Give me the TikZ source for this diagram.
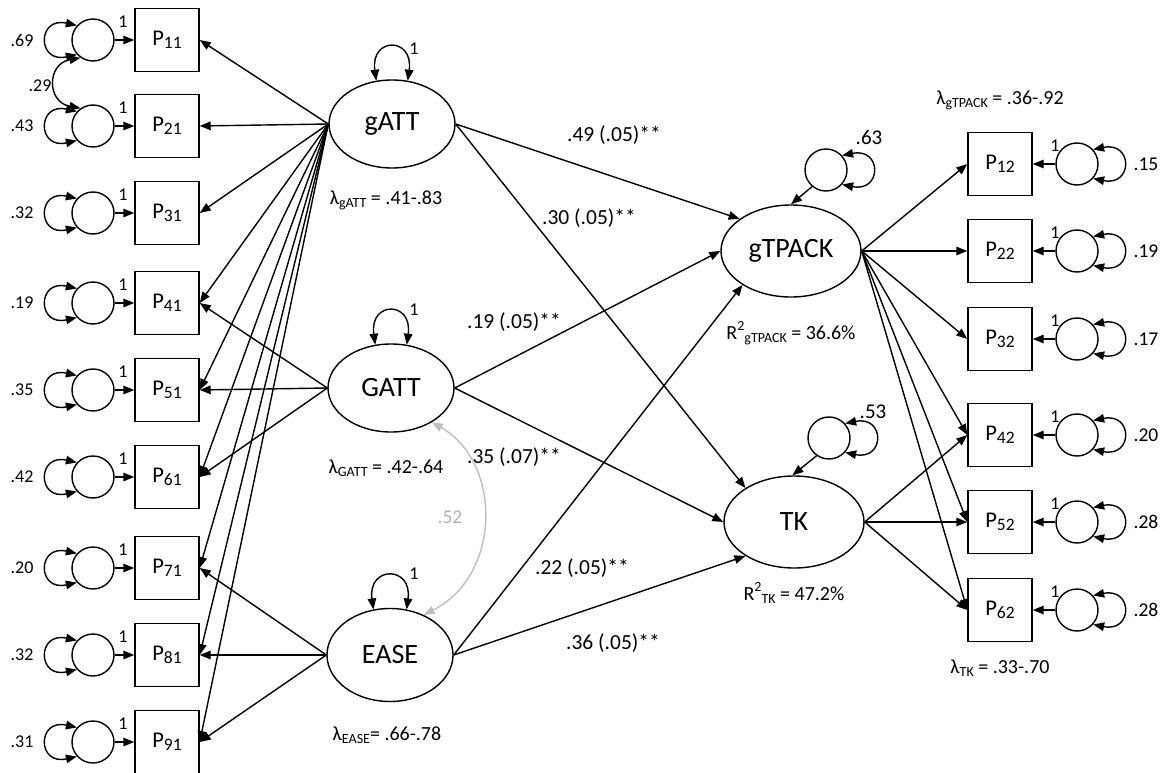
\documentclass[tikz,border=0pt]{standalone}
\usepackage{fontspec}
\setmainfont{Carlito}
\usetikzlibrary{shapes.geometric,arrows.meta}

% index placed low after a letter, and a raised exponent
\newcommand{\lowidx}[2][17.5]{\raisebox{-3pt}{\fontsize{#1}{#1}\selectfont #2}}
\newcommand{\highidx}[1]{\raisebox{0.45em}{\fontsize{14}{14}\selectfont #1}}

\tikzset{
  tip/.tip={Triangle[length=11pt,width=8.5pt]},
  obs/.style={draw, line width=1.4pt, minimum width=64pt, minimum height=63pt, inner sep=0pt,
              font=\fontsize{22.5}{26}\selectfont},
  lat/.style={draw, ellipse, line width=1.4pt, minimum width=126pt, minimum height=88pt, inner sep=0pt,
              font=\fontsize{28}{30}\selectfont},
  latR/.style={lat, minimum width=140pt, minimum height=92pt},
  err/.style={draw, circle, line width=1.4pt, minimum size=42pt, inner sep=0pt},
  lbl/.style={inner sep=0pt, font=\fontsize{18}{20}\selectfont},
  lblR/.style={inner sep=0pt, font=\fontsize{19.5}{22}\selectfont},
  lam/.style={inner sep=0pt, font=\fontsize{20}{22}\selectfont},
  one/.style={inner sep=0pt, font=\fontsize{18}{20}\selectfont},
  pathlbl/.style={inner sep=0pt, font=\fontsize{21.5}{24}\selectfont},
  arr/.style={-tip, line width=1.4pt},
  dbl/.style={tip-tip, line width=1.4pt},
  covgray/.style={tip-tip, line width=1.4pt, draw=black!25},
}

\begin{document}
\begin{tikzpicture}[x=1pt,y=-1pt]
\useasboundingbox (0,0) rectangle (1165,773);

% ---------- left indicators with their error terms ----------
\foreach \i/\y/\v in {1/40/.69, 2/126/.43, 3/213/.32, 4/303/.19, 5/390/.35,
                      6/477/.42, 7/568/.20, 8/655/.32, 9/742/.31} {
  \node[obs] (P\i1) at (167,\y) {P\lowidx{\i1}};
  \node[err] (e\i1) at (93,\y) {};
  \node[lbl] (v\i1) at (22,\y) {\v};
  \node[one] (o\i1) at (123,\y-18) {1};
  \draw[arr] (e\i1) -- (P\i1);
  \draw[dbl] (e\i1.138) .. controls +(-40,-9) and +(-40,9) .. (e\i1.222);
}

% correlated errors of the first two indicators
\draw[dbl] (e11.235) .. controls +(-34,6) and +(-34,-6) .. (e21.125);
\node[lbl] (c12) at (40,86) {.29};

% ---------- exogenous latent variables ----------
\node[lat] (gATT) at (392,124) {gATT};
\node[lat] (GATT) at (391,388) {GATT};
\node[lat, minimum height=93pt] (EASE) at (390,655) {EASE};

\foreach \n/\ly in {gATT/49, GATT/310, EASE/574} {
  \draw[dbl] (\n.110) .. controls +(-6,-44) and +(6,-44) .. (\n.70);
  \node[one] at (414,\ly) {1};
}

\node[lam] (lgATT) at (386,200) {λ\lowidx[14]{gATT} = .41-.83};
\node[lam] (lGATT) at (386,468) {λ\lowidx[14]{GATT} = .42-.64};
\node[lam] (lEASE) at (387,735) {λ\lowidx[14]{EASE}= .66-.78};

% loadings
\foreach \k in {1,...,9} { \draw[arr] (gATT.west) -- (P\k1.east); }
\foreach \k in {4,5,6} { \draw[arr] (GATT.west) -- (P\k1.east); }
\foreach \k in {7,8,9} { \draw[arr] (EASE.west) -- (P\k1.east); }

% covariance GATT <-> EASE
\draw[covgray] (GATT.-40) .. controls (502,462) and (502,575) .. (EASE.50);
\node[lblR, text=black!30] (c23) at (450,517) {.52};

% ---------- endogenous latent variables ----------
\node[latR] (gTPACK) at (791,251) {gTPACK};
\node[latR] (TK) at (794,522) {TK};

\node[err] (d1) at (826,170) {};
\node[err] (d2) at (829,438) {};
\draw[dbl] (d1.42) .. controls +(40,-8) and +(40,8) .. (d1.-42);
\draw[dbl] (d2.42) .. controls +(40,-8) and +(40,8) .. (d2.-42);
\draw[arr] (d1.230) -- (gTPACK.90);
\draw[arr] (d2.235) -- (TK.92);
\node[lblR, font=\fontsize{21}{22}\selectfont] (vd1) at (869,137) {.63};
\node[lblR, font=\fontsize{21}{22}\selectfont] (vd2) at (873,412) {.53};

\node[lam] (r1) at (791,333) {R\highidx{2}\lowidx[14]{gTPACK} = 36.6\%};
\node[lam] (r2) at (794,593) {R\highidx{2}\lowidx[14]{TK} = 47.2\%};

% structural paths
\draw[arr] (gATT.east) -- (gTPACK.148);
\draw[arr] (gATT.east) -- (TK.145);
\draw[arr] (GATT.east) -- (gTPACK.180);
\draw[arr] (GATT.east) -- (TK.180);
\draw[arr] (EASE.east) -- (gTPACK.215);
\draw[arr] (EASE.east) -- (TK.215);

\node[pathlbl] (b1) at (614,135) {.49 (.05)**};
\node[pathlbl] (b2) at (589,218) {.30 (.05)**};
\node[pathlbl] (b3) at (514,322) {.19 (.05)**};
\node[pathlbl] (b4) at (514,457) {.35 (.07)**};
\node[pathlbl] (b5) at (582,568) {.22 (.05)**};
\node[pathlbl] (b6) at (613,643) {.36 (.05)**};

% ---------- right indicators with their error terms ----------
\foreach \i/\y/\v in {1/164/.15, 2/251/.19, 3/339/.17, 4/435/.20, 5/522/.28, 6/610/.28} {
  \node[obs] (P\i2) at (1000,\y) {P\lowidx{\i2}};
  \node[err] (e\i2) at (1077,\y) {};
  \node[lblR] (v\i2) at (1146,\y) {\v};
  \node[one] (o\i2) at (1055,\y-18) {1};
  \draw[arr] (e\i2) -- (P\i2);
  \draw[dbl] (e\i2.42) .. controls +(40,-8) and +(40,8) .. (e\i2.-42);
  \draw[arr] (gTPACK.east) -- (P\i2.west);
}
\foreach \k in {4,5,6} { \draw[arr] (TK.east) -- (P\k2.west); }

\node[lam] (lgT) at (1000,100) {λ\lowidx[14]{gTPACK} = .36-.92};
\node[lam] (lTK) at (1000,668) {λ\lowidx[14]{TK} = .33-.70};

\end{tikzpicture}
\end{document}
